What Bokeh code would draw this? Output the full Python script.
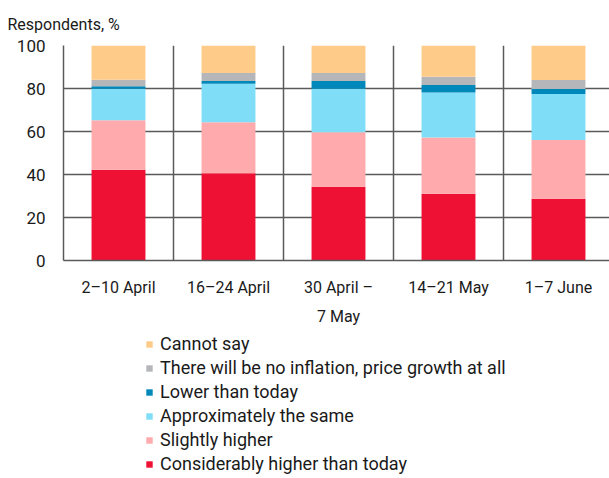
from bokeh.plotting import figure
from bokeh.layouts import column
from bokeh.models import (FixedTicker, Grid, Legend, LegendItem, Range1d, Title)
from bokeh.embed import file_html
from bokeh.resources import INLINE

categories = ["2–10 April", "16–24 April", "30 April –\n7 May", "14–21 May", "1–7 June"]
considerably_higher = [42.2, 40.6, 34.3, 31.1, 28.7]
slightly_higher = [23.0, 23.7, 25.4, 26.1, 27.3]
approximately_same = [14.7, 17.9, 20.2, 20.9, 21.4]
lower_than_today = [1.2, 1.3, 3.6, 3.5, 2.4]
no_inflation = [3.0, 3.7, 3.7, 3.9, 4.1]
cannot_say = [15.9, 12.8, 12.8, 14.5, 16.1]

series_names = ["Considerably higher than today", "Slightly higher",
                "Approximately the same", "Lower than today",
                "There will be no inflation, price growth at all", "Cannot say"]
series_keys = ["c", "s", "a", "l", "n", "cs"]
colors = ["#EE1133", "#FFAAAD", "#80DDF7", "#0088BB", "#B5B6B9", "#FFCB88"]
y_ticks = [0, 20, 40, 60, 80, 100]

FONT = "Roboto"
TXT = "#1a1a1a"
GRID = "#5a5a5a"

xs = [i + 0.5 for i in range(len(categories))]
data = dict(x=xs, c=considerably_higher, s=slightly_higher, a=approximately_same,
            l=lower_than_today, n=no_inflation, cs=cannot_say)

p = figure(width=609, height=330, output_backend="svg", toolbar_location=None,
           x_range=Range1d(0, 546 / 110), y_range=Range1d(0, 100))
p.min_border_left = 63
p.min_border_right = 0
p.min_border_top = 44
p.min_border_bottom = 70
p.outline_line_color = None
p.background_fill_color = "white"
p.border_fill_color = "white"

renderers = p.vbar_stack(series_keys, x="x", width=0.49, color=colors,
                         source=data, line_color=None)

# grids
p.xgrid.visible = False
p.ygrid.ticker = FixedTicker(ticks=y_ticks)
p.ygrid.grid_line_color = GRID
p.ygrid.grid_line_width = 1.5
vgrid = Grid(dimension=0, ticker=FixedTicker(ticks=[1, 2, 3, 4]),
             grid_line_color=GRID, grid_line_width=1.5)
p.add_layout(vgrid)
for g in p.grid:
    g.level = "underlay"

# y axis
p.yaxis.ticker = FixedTicker(ticks=y_ticks)
p.yaxis.major_tick_line_color = None
p.yaxis.minor_tick_line_color = None
p.yaxis.major_tick_out = 0
p.yaxis.major_tick_in = 0
p.yaxis.axis_line_color = GRID
p.yaxis.axis_line_width = 1.5
p.yaxis.major_label_standoff = 18
p.yaxis.major_label_text_font = FONT
p.yaxis.major_label_text_font_size = "17px"
p.yaxis.major_label_text_color = TXT

# x axis
p.xaxis.ticker = FixedTicker(ticks=xs)
p.xaxis.major_label_overrides = {x: c for x, c in zip(xs, categories)}
p.xaxis.major_tick_line_color = None
p.xaxis.minor_tick_line_color = None
p.xaxis.major_tick_out = 0
p.xaxis.major_tick_in = 0
p.xaxis.axis_line_color = GRID
p.xaxis.axis_line_width = 1.5
p.xaxis.major_label_standoff = 17
p.xaxis.major_label_text_font = FONT
p.xaxis.major_label_text_font_size = "16px"
p.xaxis.major_label_text_color = TXT
p.xaxis.major_label_text_line_height = 1.55

# title
p.title = Title(text="Respondents, %", align="left", offset=-56,
                text_font=FONT, text_font_size="16px", text_font_style="normal",
                text_color=TXT, standoff=24)

# legend figure
q = figure(width=609, height=148, output_backend="svg", toolbar_location=None,
           x_range=Range1d(0, 1), y_range=Range1d(0, 1))
q.min_border_left = 0
q.min_border_right = 0
q.min_border_top = 0
q.min_border_bottom = 0
q.axis.visible = False
q.grid.visible = False
q.outline_line_color = None
leg_renderers = [q.vbar(x=[5], top=[5], bottom=[4], width=0.1, color=c, line_color=None)
                 for c in colors]

items = [LegendItem(label=n, renderers=[r]) for n, r in zip(series_names, leg_renderers)][::-1]
legend = Legend(items=items, location=(82, 4), orientation="vertical",
                glyph_width=8, glyph_height=8, label_height=20, spacing=3,
                label_standoff=7, padding=0, margin=0,
                border_line_color=None, background_fill_alpha=0,
                label_text_font=FONT, label_text_font_size="18px",
                label_text_color=TXT)
q.add_layout(legend, "center")

open("out.html", "w").write(file_html(column(p, q, spacing=0), INLINE))
